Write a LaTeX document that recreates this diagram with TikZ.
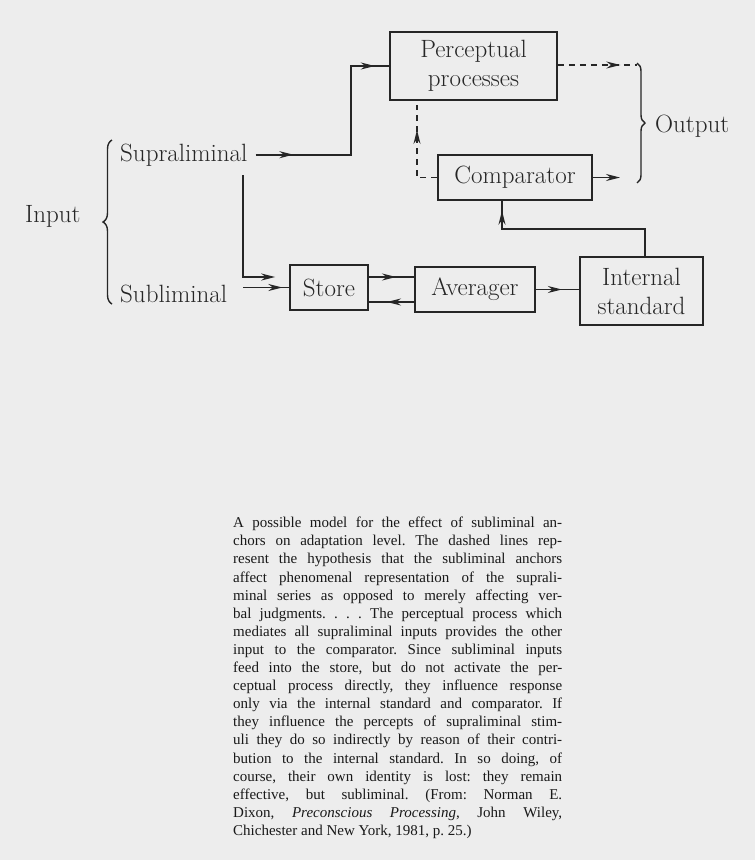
\documentclass[tikz,border=0pt]{standalone}
\usepackage{fontspec}
\usetikzlibrary{positioning, arrows.meta, calc, decorations.markings, decorations.pathreplacing}

\newfontfamily\capfont{Liberation Serif}
\newcommand{\capline}[1]{\makebox[329pt][s]{#1}}

\begin{document}
\begin{tikzpicture}[
  x=1pt, y=-1pt,
  font=\fontsize{25}{29}\selectfont,
  ln/.style={draw=black!85, line width=1.6pt},
  dln/.style={ln, dash pattern=on 6pt off 5pt},
  tip/.style={-{Stealth[length=14pt,width=7pt]}},
  midarr/.style={postaction={decorate, decoration={markings,
    mark=at position #1 with {\arrow{Stealth[length=14pt,width=7pt]}}}}},
  blk/.style={draw=black!85, line width=1.6pt, inner sep=0pt, align=center, text=black!85},
  lab/.style={text=black!85, inner sep=0pt},
  brc/.style={ln, line width=1.4pt, decorate, decoration={brace, amplitude=#1}}
]
% ================= PAGE =================
\fill[black!7] (0,0) rectangle (755,860);
\useasboundingbox (0,0) rectangle (755,860);

% ================= BOXES =================
\node[blk, minimum width=167pt, minimum height=68pt] (perc) at (473.5,66)
  {Perceptual\\processes};
\node[blk, minimum width=154pt, minimum height=45pt] (comp) at (515,177.5) {Comparator};
\node[blk, minimum width=78pt, minimum height=45pt] (store) at (329,287.5) {Store};
\node[blk, minimum width=120pt, minimum height=45pt] (aver) at (475,289.5) {Averager};
\node[blk, minimum width=123pt, minimum height=68pt] (intstd) at (641.5,291)
  {Internal\\standard};

% ================= LABELS =================
\node[lab, anchor=base west] (sup) at (120,161) {Supraliminal};
\node[lab, anchor=base west] (sub) at (120,302) {Subliminal};
\node[lab, anchor=base west] (inp) at (25,222) {Input};
\node[lab, anchor=base west] (outp) at (655,132) {Output};
\coordinate (itop) at (112,140);
\coordinate (ibot) at (112,304);
\draw[brc=9pt] (ibot) -- (itop);
\coordinate (otop) at (637,63);
\coordinate (obot) at (637,183);
\draw[brc=8pt] (otop) -- (obot);

% ================= ARROWS =================
\draw[ln, midarr=0.17, midarr=0.935] ([xshift=8pt]sup.east) -| ($(perc.west)+(-38,0)$) -- (perc.west);
\coordinate (sdrop) at (243,175);
\draw[ln, tip, shorten >=14pt] (sdrop) |- ([yshift=10.5pt]store.west);
\coordinate (subout) at ($(sub.east)+(16,0)$);
\draw[ln, midarr=0.85] (subout |- store.west) -- (store.west);
\draw[ln, midarr=0.6] ([yshift=10.5pt]store.east) -- ([yshift=10.5pt]store.east -| aver.west);
\draw[ln, midarr=0.6] ([yshift=-14.5pt]store.east -| aver.west) -- ([yshift=-14.5pt]store.east);
\draw[ln, midarr=0.6] (aver.east) -- (aver.east -| intstd.west);
\draw[ln, midarr=0.95] ([xshift=3.5pt]intstd.north) |- ($(comp.south)+(-13,28)$) -- ($(comp.south)+(-13,0)$);
\draw[ln, midarr=0.55] ($(perc.south)+(-8.5,0)$) -- ($(perc.south)+(-8.5,0)$ |- comp.north);
\draw[dln, midarr=0.73] (comp.west) -| ($(perc.south)+(-56.5,4)$);
\draw[dln, midarr=0.79] ([yshift=1pt]perc.east) -- ([yshift=1pt]perc.east -| otop);
\draw[ln, tip, shorten >=17pt] (comp.east) -- (comp.east -| otop);

% ================= CAPTION =================
\node[anchor=north west, align=left, inner sep=0pt, text=black!90,
      font=\capfont\fontsize{15}{18.1}\selectfont\frenchspacing] (capt) at (233,517)
  {\capline{A possible model for the effect of subliminal an-}\\
   \capline{chors on adaptation level. The dashed lines rep-}\\
   \capline{resent the hypothesis that the subliminal anchors}\\
   \capline{affect phenomenal representation of the suprali-}\\
   \capline{minal series as opposed to merely affecting ver-}\\
   \capline{bal judgments.~.~.~. The perceptual process which}\\
   \capline{mediates all supraliminal inputs provides the other}\\
   \capline{input to the comparator. Since subliminal inputs}\\
   \capline{feed into the store, but do not activate the per-}\\
   \capline{ceptual process directly, they influence response}\\
   \capline{only via the internal standard and comparator. If}\\
   \capline{they influence the percepts of supraliminal stim-}\\
   \capline{uli they do so indirectly by reason of their contri-}\\
   \capline{bution to the internal standard. In so doing, of}\\
   \capline{course, their own identity is lost: they remain}\\
   \capline{effective, but subliminal. (From: Norman E.}\\
   \capline{Dixon, \textit{Preconscious Processing}, John Wiley,}\\
   Chichester and New York, 1981, p. 25.)};
\end{tikzpicture}
\end{document}
